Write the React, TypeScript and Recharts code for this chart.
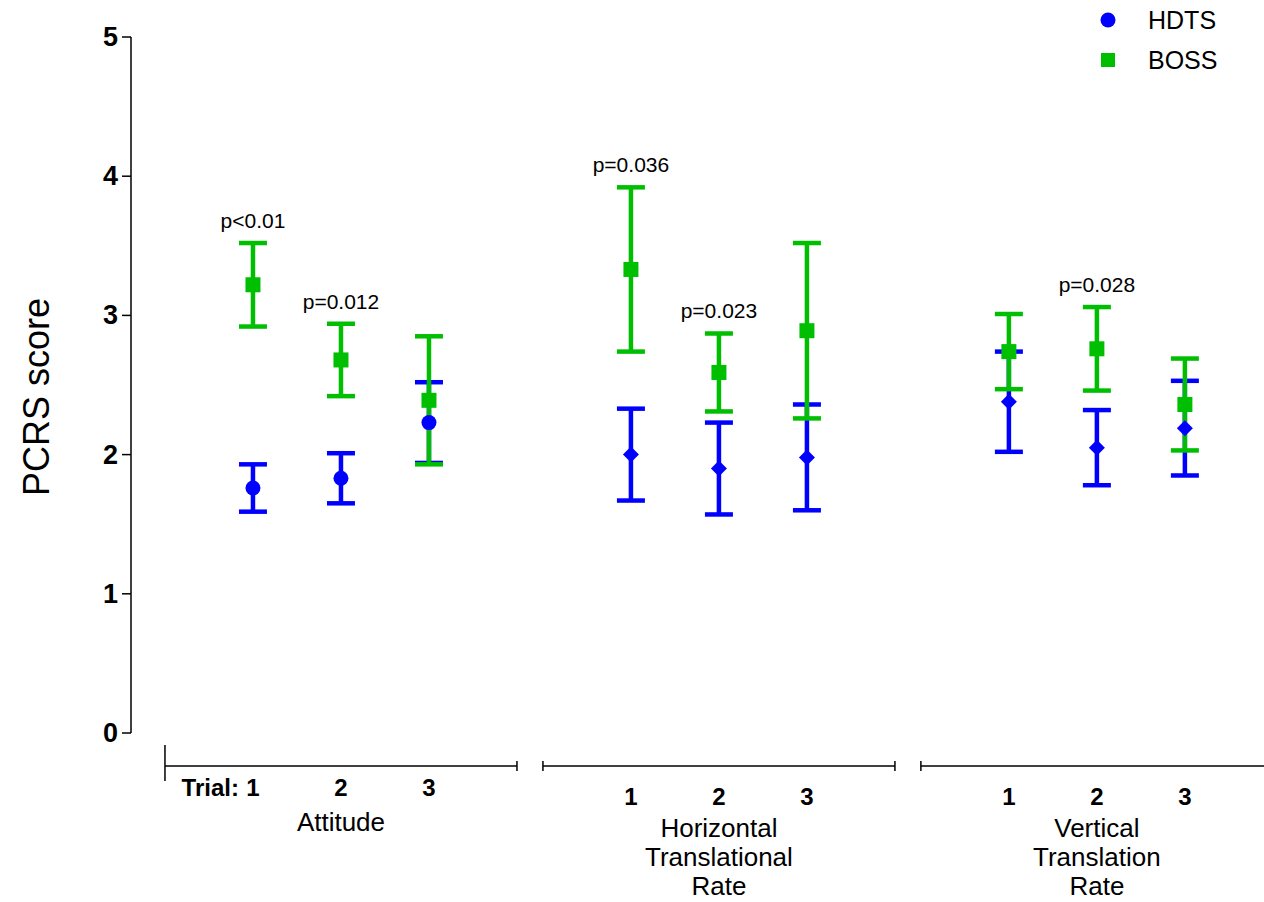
import React from 'react'
import { ComposedChart, Scatter, ErrorBar, XAxis, YAxis, ReferenceLine, ReferenceDot, Legend } from 'recharts'

// groups along the x axis (each one holds trials 1-3)
const groupNames = [['Attitude'], ['Horizontal', 'Translational', 'Rate'], ['Vertical', 'Translation', 'Rate']]
const trialLabels = ['1', '2', '3']
const seriesNames = ['HDTS', 'BOSS']

// mean and SEM, order: group 0 trial 1..3, group 1 trial 1..3, group 2 trial 1..3
const hdtsMean = [1.76, 1.83, 2.23, 2.0, 1.9, 1.98, 2.38, 2.05, 2.19]
const hdtsSem = [0.17, 0.18, 0.29, 0.33, 0.33, 0.38, 0.36, 0.27, 0.34]
const bossMean = [3.22, 2.68, 2.39, 3.33, 2.59, 2.89, 2.74, 2.76, 2.36]
const bossSem = [0.3, 0.26, 0.46, 0.59, 0.28, 0.63, 0.27, 0.3, 0.33]
const pValues = ['p<0.01', 'p=0.012', '', 'p=0.036', 'p=0.023', '', '', 'p=0.028', '']

const yTicks = [0, 1, 2, 3, 4, 5]

const HDTS_COLOR = '#0000ff'
const BOSS_COLOR = '#00bf00'
const FONT = '"Liberation Sans", Arial, sans-serif'

const GROUP_STEP = 4.295 // trial units between groups
const X_MIN = -0.386
const X_MAX = 12.489
const PX_PER_Y = 696 / 5
const SEG_Y = -33 / PX_PER_Y // group lines sit 33px below the plot

const rows = hdtsMean.map((m, i) => {
  const g = Math.floor(i / 3)
  const t = i % 3
  return {
    x: g * GROUP_STEP + t + 1,
    g,
    t,
    hdts: m,
    hdtsErr: hdtsSem[i],
    boss: bossMean[i],
    bossErr: bossSem[i],
    p: pValues[i],
  }
})

const segments = groupNames.map((_, g) => [g * GROUP_STEP, g * GROUP_STEP + 4])

const tickInfo: { value: number; kind: string; g: number; t: number }[] = []
segments.forEach(([a, b], g) => {
  tickInfo.push({ value: a, kind: 'end', g, t: -1 })
  if (b <= X_MAX) tickInfo.push({ value: b, kind: 'end', g, t: -1 })
})
rows.forEach((r) => tickInfo.push({ value: r.x, kind: 'trial', g: r.g, t: r.t }))

const XTick = (props: any) => {
  const { x, y, payload } = props
  const info = tickInfo.find((d) => Math.abs(d.value - payload.value) < 1e-6)
  if (!info) return null
  if (info.kind === 'end') {
    const tall = info.g === 0 && info.value === segments[0][0]
    return (
      <line x1={x} x2={x} y1={tall ? y + 12 : y + 28} y2={tall ? y + 48 : y + 38} stroke="#000" strokeWidth={1.5} />
    )
  }
  const base = info.g === 0 ? y + 63 : y + 72
  const names = groupNames[info.g]
  return (
    <g fontFamily={FONT}>
      {info.g === 0 && info.t === 0 && (
        <text x={x - 14} y={base} textAnchor="end" fontSize={24} fontWeight="bold" fill="#000">
          Trial:
        </text>
      )}
      <text x={x} y={base} textAnchor="middle" fontSize={24} fontWeight="bold" fill="#000">
        {trialLabels[info.t]}
      </text>
      {info.t === 1 &&
        names.map((n, k) => (
          <text
            key={n}
            x={x}
            y={(info.g === 0 ? y + 98 : y + 104) + k * 29}
            textAnchor="middle"
            fontSize={26}
            fill="#000"
          >
            {n}
          </text>
        ))}
    </g>
  )
}

const hdtsShape = (props: any) => {
  const { cx, cy, payload } = props
  if (payload.g === 0) return <circle cx={cx} cy={cy} r={7.5} fill={HDTS_COLOR} />
  const s = 8
  return <path d={`M${cx},${cy - s}L${cx + s},${cy}L${cx},${cy + s}L${cx - s},${cy}Z`} fill={HDTS_COLOR} />
}

const bossShape = (props: any) => {
  const { cx, cy } = props
  return <rect x={cx - 7.5} y={cy - 7.5} width={15} height={15} fill={BOSS_COLOR} />
}

const renderLegend = (props: any) => {
  const items = [...(props.payload || [])].sort(
    (a: any, b: any) => seriesNames.indexOf(a.value) - seriesNames.indexOf(b.value)
  )
  return (
    <svg width={184} height={80}>
      {items.map((it: any, i: number) => {
        const cy = 20 + i * 40
        return (
          <g key={it.value}>
            {it.value === 'HDTS' ? (
              <circle cx={28} cy={cy} r={7.5} fill={it.color} />
            ) : (
              <rect x={21} y={cy - 7} width={14} height={14} fill={it.color} />
            )}
            <text x={68} y={cy} dominantBaseline="central" fontSize={25} fontFamily={FONT} fill="#000">
              {it.value}
            </text>
          </g>
        )
      })}
    </svg>
  )
}

const YLabel = (props: any) => {
  const vb = props.viewBox || { x: 0, y: 37, width: 131, height: 696 }
  const cx = 36
  const cy = vb.y + vb.height / 2 + 12
  return (
    <text
      x={cx}
      y={cy}
      transform={`rotate(-90, ${cx}, ${cy})`}
      textAnchor="middle"
      dominantBaseline="central"
      fontSize={36}
      fontFamily={FONT}
      fill="#000"
    >
      PCRS score
    </text>
  )
}

const YTick = (props: any) => {
  const { x, y, payload } = props
  return (
    <text x={x} y={y} dy={9} textAnchor="end" fontSize={27} fontWeight="bold" fontFamily={FONT} fill="#000">
      {payload.value}
    </text>
  )
}

export default function App() {
  return (
    <div style={{ position: 'absolute', left: 0, top: 0, fontFamily: FONT, background: '#fff' }}>
      <ComposedChart width={1264} height={902} data={rows} margin={{ top: 37, right: 0, bottom: 0, left: 0 }}>
        <XAxis
          dataKey="x"
          type="number"
          domain={[X_MIN, X_MAX]}
          ticks={tickInfo.map((d) => d.value)}
          tick={<XTick />}
          tickLine={false}
          axisLine={false}
          tickSize={0}
          tickMargin={0}
          height={169}
          interval={0}
          allowDataOverflow
        />
        <YAxis
          type="number"
          domain={[0, 5]}
          ticks={yTicks}
          width={131}
          tickSize={9}
          tickMargin={4}
          axisLine={{ stroke: '#000', strokeWidth: 1.5 }}
          tickLine={{ stroke: '#000', strokeWidth: 1.5 }}
          tick={<YTick />}
          label={<YLabel />}
        />
        {segments.map(([a, b], g) => (
          <ReferenceLine
            key={g}
            segment={[
              { x: a, y: SEG_Y },
              { x: b, y: SEG_Y },
            ]}
            stroke="#000"
            strokeWidth={1.5}
            ifOverflow="visible"
          />
        ))}
        <Scatter name="HDTS" dataKey="hdts" fill={HDTS_COLOR} shape={hdtsShape} isAnimationActive={false}>
          <ErrorBar dataKey="hdtsErr" direction="y" width={14} strokeWidth={4.5} stroke={HDTS_COLOR} isAnimationActive={false} />
        </Scatter>
        <Scatter name="BOSS" dataKey="boss" fill={BOSS_COLOR} shape={bossShape} isAnimationActive={false}>
          <ErrorBar dataKey="bossErr" direction="y" width={14} strokeWidth={4.5} stroke={BOSS_COLOR} isAnimationActive={false} />
        </Scatter>
        {rows
          .filter((r) => r.p)
          .map((r) => (
            <ReferenceDot
              key={r.x}
              x={r.x}
              y={r.boss + r.bossErr}
              r={0}
              fill="none"
              stroke="none"
              ifOverflow="visible"
              label={{ value: r.p, position: 'top', offset: 15, fontSize: 21, fill: '#000', fontFamily: FONT }}
            />
          ))}
        <Legend
          layout="horizontal"
          verticalAlign="middle"
          align="center"
          wrapperStyle={{ top: 0, left: 1080, width: 184, height: 80 }}
          content={renderLegend}
        />
      </ComposedChart>
    </div>
  )
}
